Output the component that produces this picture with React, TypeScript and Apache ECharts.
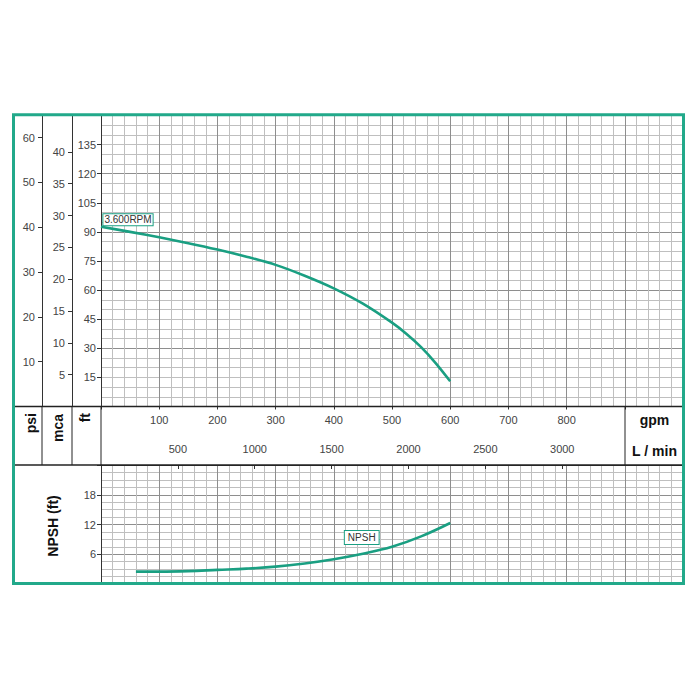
import React, { useEffect, useRef } from "react";
import * as echarts from "echarts";

// Pump head curve (gpm -> ft)
const headGpm = [0, 50, 100, 150, 200, 250, 300, 350, 400, 450, 500, 525, 550, 575, 600];
const headFt = [92.7, 90.0, 87.2, 84.2, 80.9, 77.2, 73.0, 67.4, 60.9, 53.0, 43.2, 37.4, 30.6, 22.4, 13.0];

// NPSH curve (gpm -> ft)
const npshGpm = [60, 100, 150, 200, 250, 300, 350, 400, 450, 500, 550, 600];
const npshFt = [2.5, 2.5, 2.6, 2.85, 3.1, 3.5, 4.15, 5.0, 6.1, 7.5, 9.6, 12.3];

// Tick labels
const psiLabels = [10, 20, 30, 40, 50, 60];
const mcaLabels = [5, 10, 15, 20, 25, 30, 35, 40];
const ftLabels = [15, 30, 45, 60, 75, 90, 105, 120, 135];
const gpmLabels = [100, 200, 300, 400, 500, 600, 700, 800];
const lpmLabels = [500, 1000, 1500, 2000, 2500, 3000];
const npshLabels = [6, 12, 18];

const rpmLabel = "3.600RPM";
const npshLabel = "NPSH";

const FT_MAX = 150;
const GPM_MAX = 1000;
const NPSH_MAX = 24;

export default function App() {
  const ref = useRef<HTMLDivElement>(null);

  useEffect(() => {
    if (!ref.current) return;
    const chart = echarts.init(ref.current, undefined, { renderer: "svg" });

    const teal = "#1a9f82";
    const frame = "#22a98a";
    const major = "#8e8e8e";
    const minor = "#bfbfbf";
    const axisCol = "#333";
    const font = "Liberation Sans, Arial, sans-serif";
    const lblStyle = { color: "#444", fontSize: 11, fontFamily: font };

    const L = 101, W = 582;
    const gTop = 115.5, gH = 291; // top grid
    const bandTop = gTop + gH; // 406.5
    const midY = 436;
    const bandBot = 465;
    const nH = 119;

    const gridX = (idx: number, extra: any = {}) => ({
      type: "value",
      gridIndex: idx,
      min: 0,
      max: GPM_MAX,
      interval: 100,
      axisLine: { show: false },
      axisTick: { show: false },
      axisLabel: { show: false },
      splitLine: { show: true, lineStyle: { color: major, width: 1 } },
      minorTick: { show: false, splitNumber: 5 },
      minorSplitLine: { show: true, lineStyle: { color: minor, width: 1 } },
      ...extra,
    });

    const option: any = {
      animation: false,
      backgroundColor: "#fff",
      grid: [
        { left: L, top: gTop, width: W, height: gH },
        { left: L, top: midY, width: W, height: bandBot - midY },
        { left: L, top: bandBot, width: W, height: nH },
      ],
      xAxis: [
        gridX(0, {
          axisLine: { show: true, lineStyle: { color: axisCol, width: 1 } },
          axisTick: { show: true, length: 3, lineStyle: { color: axisCol } },
          axisLabel: {
            show: true,
            margin: 8,
            ...lblStyle,
            formatter: (v: number) => (gpmLabels.includes(v) ? String(v) : ""),
          },
        }),
        {
          type: "value",
          gridIndex: 1,
          position: "top",
          min: 0,
          max: GPM_MAX * 3.7854,
          interval: 500,
          axisLine: { show: true, lineStyle: { color: axisCol, width: 1 } },
          axisTick: { show: true, inside: true, length: 4, customValues: lpmLabels, lineStyle: { color: axisCol } },
          axisLabel: {
            show: true,
            inside: true,
            margin: 7,
            customValues: lpmLabels,
            ...lblStyle,
            formatter: (v: number) => (lpmLabels.includes(v) ? String(v) : ""),
          },
          splitLine: { show: false },
        },
        gridX(2),
      ],
      yAxis: [
        {
          type: "value",
          gridIndex: 0,
          position: "left",
          min: 0,
          max: FT_MAX,
          interval: 30,
          axisLine: { show: false },
          axisTick: { show: false },
          axisLabel: { show: false },
          splitLine: { show: true, lineStyle: { color: major, width: 1 } },
          minorTick: { show: false, splitNumber: 6 },
          minorSplitLine: { show: true, lineStyle: { color: minor, width: 1 } },
        },
        {
          type: "value",
          gridIndex: 0,
          position: "left",
          offset: 0,
          min: 0,
          max: FT_MAX,
          interval: 15,
          axisLine: { show: true, onZero: false, lineStyle: { color: axisCol, width: 1 } },
          axisTick: { show: true, length: 4, lineStyle: { color: axisCol } },
          axisLabel: {
            show: true,
            margin: 5,
            ...lblStyle,
            formatter: (v: number) => (ftLabels.includes(v) ? String(v) : ""),
          },
          splitLine: { show: false },
        },
        {
          type: "value",
          gridIndex: 0,
          position: "left",
          offset: 29,
          min: 0,
          max: FT_MAX / 3.281,
          interval: 5,
          axisLine: { show: true, onZero: false, lineStyle: { color: axisCol, width: 1 } },
          axisTick: { show: true, length: 4, customValues: mcaLabels, lineStyle: { color: axisCol } },
          axisLabel: {
            show: true,
            margin: 7,
            customValues: mcaLabels,
            ...lblStyle,
            formatter: (v: number) => (mcaLabels.includes(v) ? String(v) : ""),
          },
          splitLine: { show: false },
        },
        {
          type: "value",
          gridIndex: 0,
          position: "left",
          offset: 59,
          min: 0,
          max: FT_MAX / 2.31,
          interval: 10,
          axisLine: { show: true, onZero: false, lineStyle: { color: axisCol, width: 1 } },
          axisTick: { show: true, length: 4, customValues: psiLabels, lineStyle: { color: axisCol } },
          axisLabel: {
            show: true,
            margin: 7,
            customValues: psiLabels,
            ...lblStyle,
            formatter: (v: number) => (psiLabels.includes(v) ? String(v) : ""),
          },
          splitLine: { show: false },
        },
        { type: "value", gridIndex: 1, show: false, min: 0, max: 1 },
        {
          type: "value",
          gridIndex: 2,
          position: "left",
          min: 0,
          max: NPSH_MAX,
          interval: 6,
          axisLine: { show: true, onZero: false, lineStyle: { color: axisCol, width: 1 } },
          axisTick: { show: true, length: 4, lineStyle: { color: axisCol } },
          axisLabel: {
            show: true,
            margin: 5,
            ...lblStyle,
            formatter: (v: number) => (npshLabels.includes(v) ? String(v) : ""),
          },
          splitLine: { show: true, lineStyle: { color: major, width: 1 } },
          minorTick: { show: false, splitNumber: 4 },
          minorSplitLine: { show: true, lineStyle: { color: minor, width: 1 } },
        },
      ],
      series: [
        {
          type: "line",
          xAxisIndex: 0,
          yAxisIndex: 1,
          data: headGpm.map((g, i) => [g, headFt[i]]),
          smooth: 0.3,
          showSymbol: false,
          lineStyle: { color: teal, width: 2.6 },
          z: 5,
          markPoint: {
            silent: true,
            symbol: "rect",
            symbolSize: 0,
            itemStyle: { color: "transparent" },
            data: [
              {
                coord: [headGpm[0], headFt[0]],
                label: {
                  show: true,
                  position: "inside",
                  offset: [27, -7],
                  formatter: rpmLabel,
                  fontSize: 10,
                  fontFamily: font,
                  color: "#333",
                  backgroundColor: "#fff",
                  borderColor: teal,
                  borderWidth: 1,
                  padding: [1, 1, 0, 1],
                },
              },
            ],
          },
        },
        {
          type: "line",
          xAxisIndex: 2,
          yAxisIndex: 5,
          data: npshGpm.map((g, i) => [g, npshFt[i]]),
          smooth: 0.4,
          showSymbol: false,
          lineStyle: { color: teal, width: 2.6 },
          z: 5,
          markPoint: {
            silent: true,
            symbol: "rect",
            symbolSize: 0,
            itemStyle: { color: "transparent" },
            data: [
              {
                coord: [448, 9.4],
                label: {
                  show: true,
                  position: "inside",
                  formatter: npshLabel,
                  fontSize: 10,
                  fontFamily: font,
                  color: "#333",
                  backgroundColor: "#fff",
                  borderColor: teal,
                  borderWidth: 1,
                  padding: [2, 3, 1, 3],
                },
              },
            ],
          },
        },
      ],
      graphic: [
        // band borders
        { type: "line", z: 50, shape: { x1: 14, y1: bandTop, x2: 683, y2: bandTop }, style: { stroke: "#222", lineWidth: 1.5 } },
        { type: "line", z: 50, shape: { x1: 14, y1: bandBot, x2: 683, y2: bandBot }, style: { stroke: "#222", lineWidth: 1.5 } },
        { type: "line", z: 50, shape: { x1: 42, y1: bandTop, x2: 42, y2: bandBot }, style: { stroke: "#222", lineWidth: 1 } },
        { type: "line", z: 50, shape: { x1: 72, y1: bandTop, x2: 72, y2: bandBot }, style: { stroke: "#222", lineWidth: 1 } },
        { type: "line", z: 50, shape: { x1: 101, y1: bandTop, x2: 101, y2: bandBot }, style: { stroke: "#222", lineWidth: 1 } },
        { type: "line", z: 50, shape: { x1: 625, y1: bandTop, x2: 625, y2: bandBot }, style: { stroke: "#222", lineWidth: 1 } },
        // band titles
        { type: "text", z: 50, x: 30.5, y: 413, rotation: Math.PI / 2, style: { text: "psi", font: `bold 14px ${font}`, fill: "#111", align: "right", verticalAlign: "middle" } },
        { type: "text", z: 50, x: 57.5, y: 414, rotation: Math.PI / 2, style: { text: "mca", font: `bold 14px ${font}`, fill: "#111", align: "right", verticalAlign: "middle" } },
        { type: "text", z: 50, x: 85, y: 413, rotation: Math.PI / 2, style: { text: "ft", font: `bold 14px ${font}`, fill: "#111", align: "right", verticalAlign: "middle" } },
        { type: "text", z: 50, x: 654.5, y: 420, style: { text: "gpm", font: `bold 14px ${font}`, fill: "#111", align: "center", verticalAlign: "middle" } },
        { type: "text", z: 50, x: 654.5, y: 451, style: { text: "L / min", font: `bold 14px ${font}`, fill: "#111", align: "center", verticalAlign: "middle" } },
        { type: "text", z: 50, x: 53, y: 526, rotation: Math.PI / 2, style: { text: "NPSH (ft)", font: `bold 14px ${font}`, fill: "#111", align: "center", verticalAlign: "middle" } },
        // outer frame
        { type: "rect", z: 60, shape: { x: 13.5, y: 114.8, width: 670, height: 468.7 }, style: { fill: "none", stroke: frame, lineWidth: 3 } },
      ],
    };

    chart.setOption(option);
    return () => chart.dispose();
  }, []);

  return (
    <div
      ref={ref}
      style={{ position: "absolute", left: 0, top: 0, width: 700, height: 700, background: "#fff" }}
    />
  );
}
